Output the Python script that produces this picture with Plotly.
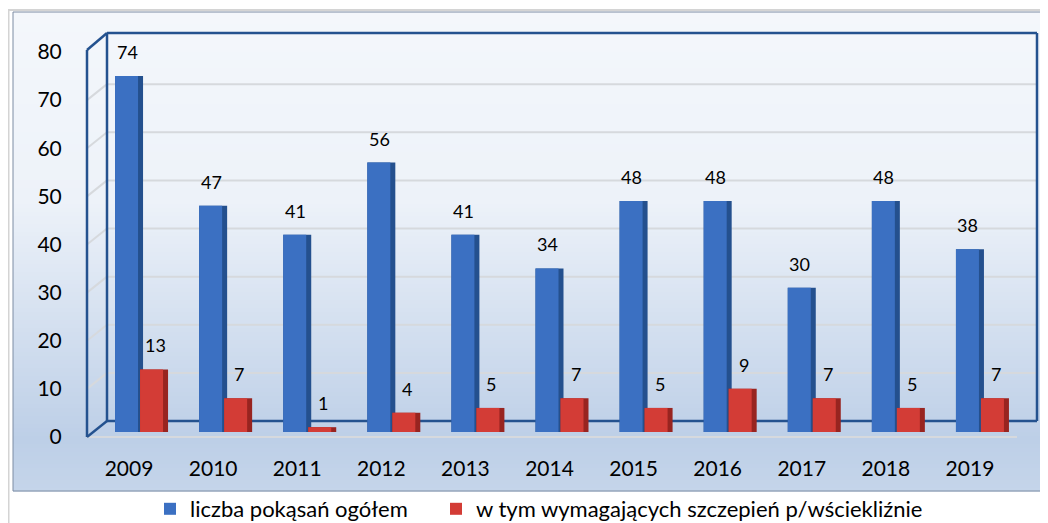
import plotly.graph_objects as go

years = ["2009", "2010", "2011", "2012", "2013", "2014", "2015", "2016", "2017", "2018", "2019"]
total_bites = [74, 47, 41, 56, 41, 34, 48, 48, 30, 48, 38]
rabies_vacc = [13, 7, 1, 4, 5, 7, 5, 9, 7, 5, 7]
y_ticks = [0, 10, 20, 30, 40, 50, 60, 70, 80]
name_total = "liczba pokąsań ogółem"
name_vacc = "w tym wymagających szczepień p/wściekliźnie"

# page body has an 8px margin; geometry below is expressed in window pixels
BODY = 8
W, H = 1048 - BODY, 523 - BODY
L_W, R_W, T_W, B_W = 87, 1024, 47, 437          # plot area in window pixels
ML, MR, MT, MB = L_W - BODY, W - (R_W - BODY), T_W - BODY, H - (B_W - BODY)
PW, PH = W - ML - MR, H - MT - MB
FONT = "Lato, 'Open Sans', sans-serif"

def px(xw):
    return (xw - L_W) / PW

def py(yw):
    return (B_W - yw) / PH

BLUE_F, BLUE_S = "#3b70c2", "#24508e"
RED_F, RED_S = "#d33c36", "#982420"
FRAME = "#24528f"
GRID = "#d6d9dd"
DX, DY = 20, 16
unit = 925 / 11          # px per category

fig = go.Figure()
specs = [
    (total_bites, BLUE_S, -14, 28, False, name_total, "legend"),
    (total_bites, BLUE_F, -14, 23, True, name_total, "legend"),
    (rabies_vacc, RED_S, 11, 28, False, name_vacc, "legend2"),
    (rabies_vacc, RED_F, 11, 23, True, name_vacc, "legend2"),
]
for vals, col, off, wd, leg, nm, lg in specs:
    fig.add_trace(go.Bar(
        x=years, y=vals, xaxis="x", yaxis="y2", name=nm, showlegend=leg, legend=lg,
        legendgroup=nm, marker=dict(color=col, line=dict(width=0)),
        offset=off / unit, width=wd / unit, hoverinfo="x+y",
    ))

shapes = []
# gradient background
stops = [(12, (244, 247, 251)), (200, (237, 242, 249)), (440, (189, 207, 231)), (491, (197, 213, 234))]
def col_at(y):
    for (y0, c0), (y1, c1) in zip(stops[:-1], stops[1:]):
        if y0 <= y <= y1:
            t = (y - y0) / (y1 - y0)
            return "rgb(%d,%d,%d)" % tuple(round(a + (b - a) * t) for a, b in zip(c0, c1))
    return "rgb(%d,%d,%d)" % stops[-1][1]
step = 4
y = 12
while y < 491:
    y2 = min(y + step, 491)
    shapes.append(dict(type="rect", xref="paper", yref="paper", x0=px(13), x1=px(1060),
                       y0=py(y2 + 0.5), y1=py(y), fillcolor=col_at((y + y2) / 2),
                       line=dict(width=0), layer="below"))
    y = y2
shapes.append(dict(type="rect", xref="paper", yref="paper", x0=px(13), x1=px(1060),
                   y0=py(491), y1=py(12), line=dict(color="#7d8ca3", width=1), layer="below"))
# outer light frame
shapes.append(dict(type="line", xref="paper", yref="paper", x0=px(8.5), x1=px(8.5), y0=py(10), y1=py(530),
                   line=dict(color="#d4d4d4", width=2), layer="below"))
shapes.append(dict(type="line", xref="paper", yref="paper", x0=px(8), x1=px(1060), y0=py(10), y1=py(10),
                   line=dict(color="#d4d4d4", width=2), layer="below"))
# back wall gridlines + side wall diagonals
for v in y_ticks[1:-1]:
    shapes.append(dict(type="line", xref="paper", yref="y", xsizemode="pixel", ysizemode="pixel",
                       xanchor=0, yanchor=v, x0=DX, x1=DX + 930, y0=DY, y1=DY,
                       line=dict(color=GRID, width=2), layer="below"))
    shapes.append(dict(type="line", xref="paper", yref="y", xsizemode="pixel", ysizemode="pixel",
                       xanchor=0, yanchor=v, x0=0, x1=DX, y0=0, y1=DY,
                       line=dict(color=GRID, width=2), layer="below"))
# floor front edge
shapes.append(dict(type="line", xref="paper", yref="paper", x0=px(87), x1=px(1017), y0=py(437), y1=py(437),
                   line=dict(color=GRID, width=2), layer="below"))
# 3D frame lines (window pixels -> paper)
fl = dict(color=FRAME, width=2.5)
def fline(x0, y0, x1, y1):
    shapes.append(dict(type="line", xref="paper", yref="paper", x0=px(x0), y0=py(y0),
                       x1=px(x1), y1=py(y1), line=fl, layer="below"))
fline(107, 33, 1037, 33)     # back top
fline(107, 421, 1037, 421)   # back bottom
fline(107, 33, 107, 421)     # back left
fline(1037, 33, 1037, 421)   # back right
fline(87, 50, 87, 437)       # front left
fline(87, 50, 107, 33)       # top diagonal
fline(87, 437, 107, 421)     # bottom diagonal

# data labels (category axes take serial indices for annotation positions)
annotations = []
for vals, xs in ((total_bites, -2), (rabies_vacc, 26)):
    for i, v in enumerate(vals):
        annotations.append(dict(x=i, y=v, xref="x", yref="y", text=str(v), showarrow=False,
                                xshift=xs, yshift=16, yanchor="bottom", xanchor="center",
                                font=dict(family=FONT, size=18, color="#000000")))

leg_common = dict(orientation="h", xanchor="left", y=py(509), yanchor="middle",
                  font=dict(size=22), bgcolor="rgba(0,0,0,0)", itemwidth=30)

fig.update_layout(
    width=W, height=H,
    margin=dict(l=ML, r=MR, t=MT, b=MB, autoexpand=False),
    paper_bgcolor="#ffffff", plot_bgcolor="rgba(0,0,0,0)",
    barmode="overlay",
    font=dict(family=FONT, size=21, color="#000000"),
    xaxis=dict(domain=[0, 925 / PW], type="category", range=[-0.5, 10.5], showgrid=False,
               zeroline=False, showline=False, ticks="outside", ticklen=13,
               tickcolor="rgba(0,0,0,0)", tickfont=dict(size=21), fixedrange=True, automargin=False),
    yaxis=dict(domain=[0, 385 / PH], range=[0, 80], tickvals=y_ticks, showgrid=False,
               zeroline=False, showline=False, ticks="outside", ticklen=20,
               tickcolor="rgba(0,0,0,0)", tickfont=dict(size=21), fixedrange=True, automargin=False),
    yaxis2=dict(domain=[5 / PH, 1], range=[0, 80], anchor="x", visible=False, fixedrange=True),
    shapes=shapes,
    annotations=annotations,
    legend=dict(x=px(150), **leg_common),
    legend2=dict(x=px(436), **leg_common),
)

fig.write_html("out.html")
